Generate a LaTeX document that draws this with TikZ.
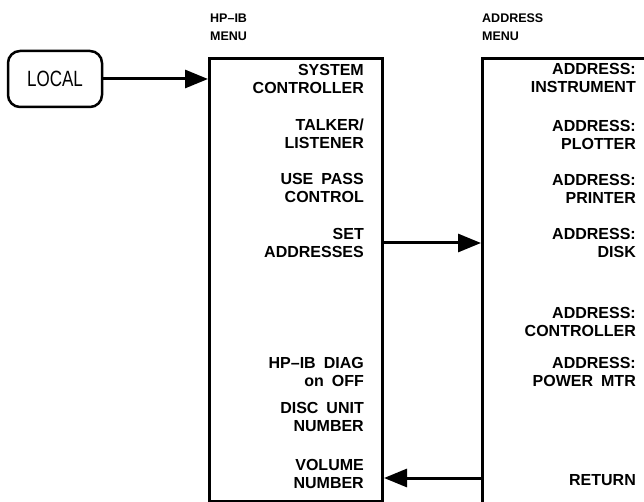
\documentclass[tikz,border=0pt]{standalone}
\usepackage{fontspec}
\setmainfont{Liberation Sans}
\usetikzlibrary{arrows.meta}
\begin{document}
\begin{tikzpicture}[x=1pt,y=-1pt,
  menubox/.style={draw, line width=3pt, anchor=north west, inner sep=0pt},
  item/.style={anchor=east, align=right, inner sep=0pt, font=\fontsize{16}{18}\selectfont\bfseries},
  menutitle/.style={anchor=west, align=left, inner sep=0pt, font=\fontsize{12.5}{18}\selectfont\bfseries},
  arr/.style={line width=3pt, -{Triangle[length=23pt,width=18pt]}},
  localbox/.style={draw, line width=2.5pt, rounded corners=12pt, minimum width=94pt, minimum height=56pt, inner sep=0pt, font=\fontsize{17}{18}\selectfont}]
\useasboundingbox (0,0) rectangle (644,502);
\clip (0,0) rectangle (644,502);

% boxes
\node[localbox] (local) at (55,79) {\scalebox{1}[1.3]{LOCAL}};
\node[menubox, minimum width=173pt, minimum height=443pt] (hpib) at (208,57) {};
\node[menubox, minimum width=220pt, minimum height=500pt] (addr) at (481,57) {};

% titles
\node[menutitle] (t1) at (210,18) {HP–IB};
\node[menutitle] (t2) at (210,36) {MENU};
\node[menutitle] (t3) at (482,18) {ADDRESS};
\node[menutitle] (t4) at (482,36) {MENU};

% left menu items
\node[item] (l1) at (364,79)  {SYSTEM\\CONTROLLER};
\node[item] (l2) at (364,134) {TALKER/\\LISTENER};
\node[item] (l3) at (364,188) {USE\enspace PASS\\CONTROL};
\node[item] (l4) at (364,243) {SET\\ADDRESSES};
\node[item] (l5) at (364,372) {HP–IB\enspace DIAG\\on\enspace OFF};
\node[item] (l6) at (364,417) {DISC\enspace UNIT\\NUMBER};
\node[item] (l7) at (364,474) {VOLUME\\NUMBER};

% right menu items
\node[item] (r1) at (636,78)  {ADDRESS:\\INSTRUMENT};
\node[item] (r2) at (636,135) {ADDRESS:\\PLOTTER};
\node[item] (r3) at (636,189) {ADDRESS:\\PRINTER};
\node[item] (r4) at (636,243) {ADDRESS:\\DISK};
\node[item] (r5) at (636,322) {ADDRESS:\\CONTROLLER};
\node[item] (r6) at (636,372) {ADDRESS:\\POWER\enspace MTR};
\node[item] (r7) at (636,480) {RETURN};

% connectors
\coordinate (sa) at (0,243);
\coordinate (ra) at (0,478);
\draw[arr] (local.east) -- (local.east -| hpib.west);
\draw[arr] (hpib.east |- sa) -- (addr.west |- sa);
\draw[arr] (addr.west |- ra) -- (hpib.east |- ra);
\end{tikzpicture}
\end{document}
